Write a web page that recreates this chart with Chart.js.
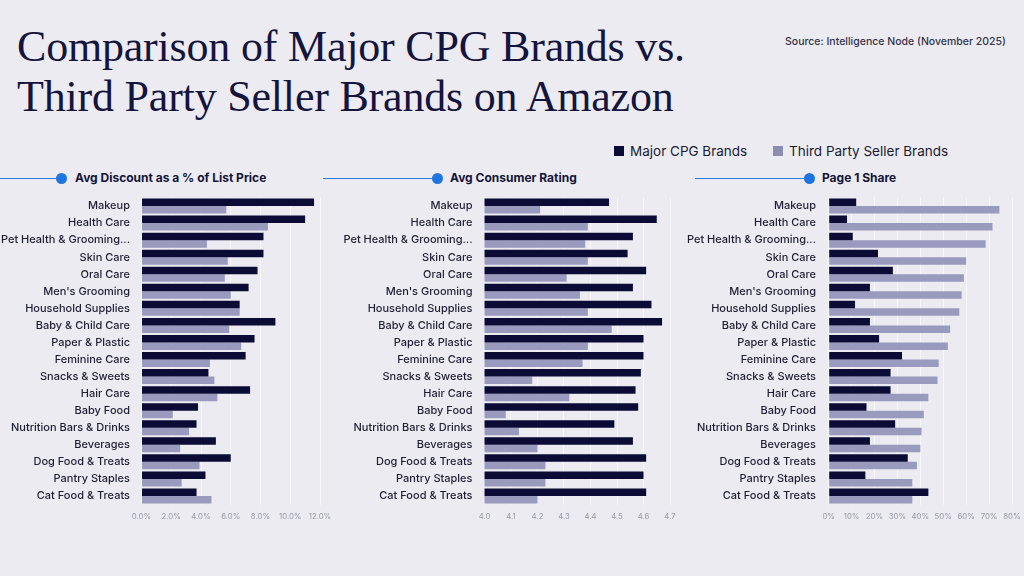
<!DOCTYPE html>
<html>
<head>
<meta charset="utf-8">
<script src="https://cdn.jsdelivr.net/npm/chart.js@4"></script>
<style>
  html, body { margin: 0; padding: 0; }
  body {
    width: 1024px; height: 576px; overflow: hidden; position: relative;
    background: #ebebf1; font-family: "Inter", "Noto Sans", sans-serif; color: #14143a;
  }
  .title {
    position: absolute; left: 17px; top: 22px;
    font-family: "Liberation Serif", "DejaVu Serif", serif;
    font-size: 44px; line-height: 50px; color: #14143c; letter-spacing: -0.2px;
  }
  .source {
    position: absolute; left: 785px; top: 35px;
    font-size: 10.5px; font-weight: 500; color: #33334a;
  }
  .legend {
    position: absolute; top: 143px; font-size: 13.5px; color: #1a1a33;
  }
  .legend span.sw {
    display: inline-block; width: 10px; height: 10px; margin-right: 6px; vertical-align: 0px;
  }
  .hdr-line { position: absolute; height: 1.5px; background: #2b7be0; top: 177.5px; }
  .hdr-dot { position: absolute; width: 11px; height: 11px; border-radius: 50%; background: #1f74e0; top: 172.5px; }
  .hdr-text { position: absolute; top: 170px; font-size: 12px; font-weight: 700; color: #14143a; }
  canvas { position: absolute; }
</style>
</head>
<body>
<div class="title">Comparison of Major CPG Brands vs.<br>Third Party Seller Brands on Amazon</div>
<div class="source">Source: Intelligence Node (November 2025)</div>

<div class="legend" style="left:614px"><span class="sw" style="background:#0b0b35"></span>Major CPG Brands</div>
<div class="legend" style="left:773px"><span class="sw" style="background:#8d8db4"></span>Third Party Seller Brands</div>

<div class="hdr-line" style="left:0;width:60px"></div>
<div class="hdr-dot" style="left:56px"></div>
<div class="hdr-text" style="left:75px">Avg Discount as a % of List Price</div>

<div class="hdr-line" style="left:323px;width:112px"></div>
<div class="hdr-dot" style="left:432px"></div>
<div class="hdr-text" style="left:450px">Avg Consumer Rating</div>

<div class="hdr-line" style="left:695px;width:112px"></div>
<div class="hdr-dot" style="left:804px"></div>
<div class="hdr-text" style="left:822px">Page 1 Share</div>

<canvas id="discountChart" style="left:0;top:190px" width="340" height="340"></canvas>
<canvas id="ratingChart" style="left:335px;top:190px" width="355" height="340"></canvas>
<canvas id="shareChart" style="left:685px;top:190px" width="339" height="340"></canvas>

<script>
// categories (same order in all three panels)
const categories = [
  'Makeup', 'Health Care', 'Pet Health & Grooming...', 'Skin Care', 'Oral Care',
  "Men's Grooming", 'Household Supplies', 'Baby & Child Care', 'Paper & Plastic',
  'Feminine Care', 'Snacks & Sweets', 'Hair Care', 'Baby Food',
  'Nutrition Bars & Drinks', 'Beverages', 'Dog Food & Treats', 'Pantry Staples',
  'Cat Food & Treats'
];

const seriesNames = ['Major CPG Brands', 'Third Party Seller Brands'];

// Avg Discount as a % of List Price
const discountCpg   = [11.6, 11.0, 8.2, 8.2, 7.8, 7.2, 6.6, 9.0, 7.6, 7.0, 4.5, 7.3, 3.8, 3.7, 5.0, 6.0, 4.3, 3.7];
const discountThird = [5.7, 8.5, 4.4, 5.8, 5.6, 6.0, 6.6, 5.9, 6.7, 4.6, 4.9, 5.1, 2.1, 3.2, 2.6, 3.9, 2.7, 4.7];

// Avg Consumer Rating
const ratingCpg   = [4.47, 4.65, 4.56, 4.54, 4.61, 4.56, 4.63, 4.67, 4.60, 4.60, 4.59, 4.57, 4.58, 4.49, 4.56, 4.61, 4.60, 4.61];
const ratingThird = [4.21, 4.39, 4.38, 4.39, 4.31, 4.36, 4.39, 4.48, 4.39, 4.37, 4.18, 4.32, 4.08, 4.13, 4.20, 4.23, 4.23, 4.20];

// Page 1 Share (%)
const shareCpg   = [12, 8, 10.5, 21.5, 28, 18, 11.5, 18, 22, 32, 27, 27, 16.5, 29, 18, 34.5, 16, 43.5];
const shareThird = [74.5, 71.5, 68.5, 60, 59, 58, 57, 53, 52, 48, 47.5, 43.5, 41.5, 40.5, 40, 38.5, 36.5, 36.5];

// tick ranges
const discountTicks = { min: 0, max: 12, step: 2 };
const ratingTicks   = { min: 4.0, max: 4.7, step: 0.1 };
const shareTicks    = { min: 0, max: 80, step: 10 };

const DARK = '#0b0b35';
const LIGHT = '#9a9abf';

function makePanel(id, cpg, third, ticks, fmt, axisW, labelPad, padRight) {
  const ctx = document.getElementById(id).getContext('2d');
  return new Chart(ctx, {
    type: 'bar',
    data: {
      labels: categories,
      datasets: [
        { label: seriesNames[0], data: cpg, backgroundColor: DARK, borderWidth: 0 },
        { label: seriesNames[1], data: third, backgroundColor: LIGHT, borderWidth: 0 }
      ]
    },
    options: {
      indexAxis: 'y',
      responsive: false,
      animation: false,
      events: [],
      categoryPercentage: 0.88,
      barPercentage: 1.0,
      layout: { padding: { top: 7.5, bottom: 5, left: 0, right: padRight } },
      plugins: { legend: { display: false }, tooltip: { enabled: false } },
      scales: {
        x: {
          min: ticks.min, max: ticks.max,
          grid: { color: '#f7f7fa', lineWidth: 1, drawTicks: false },
          border: { display: false },
          ticks: {
            stepSize: ticks.step, padding: 7, color: '#9a9aa8',
            maxRotation: 0, minRotation: 0, autoSkip: false,
            font: { family: 'Inter', size: 7.8 },
            callback: v => fmt(v)
          },
          afterFit: s => { s.height = 20.5; s.paddingLeft = 0; s.paddingRight = 0; }
        },
        y: {
          grid: { display: false, drawTicks: false },
          border: { display: false },
          ticks: {
            padding: labelPad, color: '#1e1e34', autoSkip: false,
            font: { family: 'Inter', size: 11, weight: 500 }
          },
          afterFit: s => { s.width = axisW; s.paddingTop = 0; s.paddingBottom = 0; }
        }
      }
    }
  });
}

makePanel('discountChart', discountCpg, discountThird, discountTicks, v => v.toFixed(1) + '%', 141.5, 11.5, 20);
makePanel('ratingChart', ratingCpg, ratingThird, ratingTicks, v => v.toFixed(1), 149.5, 12, 20);
makePanel('shareChart', shareCpg, shareThird, shareTicks, v => Math.round(v) + '%', 143.7, 12.7, 12);
</script>
</body>
</html>
